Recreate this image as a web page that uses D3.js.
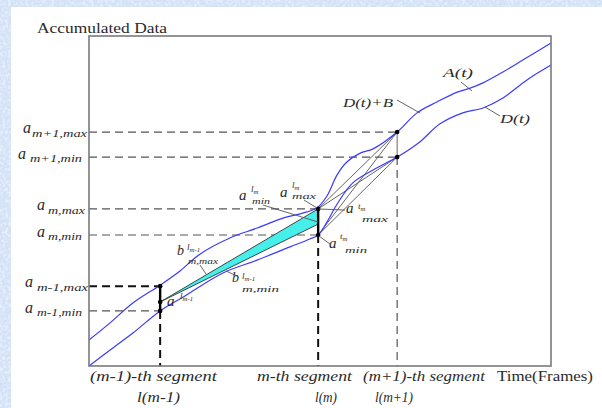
<!DOCTYPE html>
<html lang="en">
<head>
<meta charset="UTF-8">
<title>Accumulated Data</title>
<script src="https://d3js.org/d3.v7.min.js"></script>
<style>
    body { margin: 0; }
    svg text { font-family: "Liberation Serif", "DejaVu Serif", serif; fill: #2a2a2a; }
    .it { font-style: italic; }
    .curve { fill: none; stroke: #3b3bff; stroke-width: 1.2px; }
    .guide { fill: none; stroke: #555; stroke-width: 1.2px; stroke-dasharray: 8,5; }
    .guide.bold { stroke: #111; stroke-width: 2px; }
    .thin { stroke: #555; stroke-width: 0.9px; fill: none; }
</style>
</head>
<body>
<svg id="chart"></svg>
<script>
// frames on x, accumulated data on y (both 0..100)
const upperT = [0, 4.5, 9.5, 15.4, 19.7, 24.0, 30.5, 36.4, 42.0, 47.2, 49.6, 51.5, 53.7, 55.8, 58.7, 61.5, 66.7, 71.0, 75.3, 79.7, 82.5, 85.3, 89.6, 93.9, 100];
const upperV = [7.9, 13.0, 19.1, 24.5, 28.8, 33.9, 38.8, 41.8, 44.8, 46.7, 48.2, 51.5, 57.9, 61.8, 64.5, 65.8, 70.9, 76.7, 80.0, 83.0, 84.2, 85.8, 89.1, 92.7, 97.9];
const lowerT = [0, 4.5, 9.5, 15.4, 20.4, 29.0, 36.4, 43.5, 47.8, 49.6, 51.5, 53.7, 57.1, 61.5, 66.7, 71.6, 75.9, 80.9, 85.3, 89.6, 94.8, 100];
const lowerV = [0, 4.8, 10.0, 16.7, 20.9, 28.2, 32.1, 36.1, 38.5, 39.7, 43.6, 49.1, 55.5, 59.4, 63.3, 67.9, 73.3, 76.7, 78.2, 81.2, 86.7, 91.2];

const segBounds = [15.4, 49.6, 66.7];          // l(m-1), l(m), l(m+1)
const segNames = ["(m-1)-th segment", "m-th segment", "(m+1)-th segment"];
const segTicks = ["l(m-1)", "l(m)", "l(m+1)"];
const levelMax = [24.2, 47.6, 70.9];           // a_{m-1,max}, a_{m,max}, a_{m+1,max}
const levelMin = [16.7, 39.7, 63.3];
const levelMaxSubs = ["m-1,max", "m,max", "m+1,max"];
const levelMinSubs = ["m-1,min", "m,min", "m+1,min"];
const alphaStart = 19.4;                        // a^{l(m-1)}
const alphaLmMin = 43.0;                        // lower corner of the shaded wedge

const W = 602, H = 408;
const svg = d3.select("#chart").attr("width", W).attr("height", H);

// textured blue backdrop + white sheet
const defs = svg.append("defs");
const f = defs.append("filter").attr("id", "tex").attr("x", 0).attr("y", 0).attr("width", 1).attr("height", 1);
f.append("feTurbulence").attr("type", "fractalNoise").attr("baseFrequency", 0.35).attr("numOctaves", 2).attr("seed", 4);
f.append("feColorMatrix").attr("values", "0 0 0 0 1  0 0 0 0 1  0 0 0 0 1  2.2 0 0 0 -0.9");
svg.append("rect").attr("width", W).attr("height", H).attr("fill", "#d3e2f7");
svg.append("rect").attr("width", W).attr("height", H).attr("filter", "url(#tex)").attr("opacity", 0.6);
svg.append("rect").attr("x", 11).attr("y", 7).attr("width", W - 11).attr("height", H - 7).attr("fill", "#fff");

const x = d3.scaleLinear().domain([0, 100]).range([89, 551]);
const y = d3.scaleLinear().domain([0, 100]).range([366, 36]);

const g = svg.append("g");

// dashed guides
for (let i = 0; i < 3; i++) {
    const bold = i < 2;
    g.append("line").attr("class", "guide" + (i === 0 ? " bold" : ""))
        .attr("x1", x(0)).attr("x2", x(segBounds[i])).attr("y1", y(levelMax[i])).attr("y2", y(levelMax[i]));
    g.append("line").attr("class", "guide")
        .attr("x1", x(0)).attr("x2", x(segBounds[i])).attr("y1", y(levelMin[i])).attr("y2", y(levelMin[i]));
    g.append("line").attr("class", "guide" + (bold ? " bold" : ""))
        .attr("x1", x(segBounds[i])).attr("x2", x(segBounds[i])).attr("y1", y(levelMin[i])).attr("y2", y(0));
}

// shaded wedge of the m-th segment
g.append("path")
    .attr("d", d3.line()([[x(segBounds[0]), y(alphaStart)], [x(segBounds[1]), y(levelMax[1])], [x(segBounds[1]), y(alphaLmMin)]]) + "Z")
    .attr("fill", "#46efe9").attr("stroke", "#333").attr("stroke-width", 0.9);

// candidate lines into the (m+1)-th segment
[[levelMax[1], levelMax[2]], [levelMax[1], levelMin[2]], [levelMin[1], levelMax[2]], [levelMin[1], levelMin[2]]].forEach(p => {
    g.append("line").attr("class", "thin")
        .attr("x1", x(segBounds[1])).attr("y1", y(p[0]))
        .attr("x2", x(segBounds[2])).attr("y2", y(p[1]));
});
g.append("line").attr("class", "thin")
    .attr("x1", x(segBounds[2])).attr("x2", x(segBounds[2])).attr("y1", y(levelMax[2])).attr("y2", y(levelMin[2]));

// curves
const line = d3.line().curve(d3.curveCatmullRom).x(d => x(d[0])).y(d => y(d[1]));
g.append("path").attr("class", "curve").attr("d", line(upperT.map((t, i) => [t, upperV[i]])));
g.append("path").attr("class", "curve").attr("d", line(lowerT.map((t, i) => [t, lowerV[i]])));

// solid bars at segment ends
for (let i = 0; i < 2; i++) {
    g.append("line").attr("stroke", "#000").attr("stroke-width", 2.4)
        .attr("x1", x(segBounds[i])).attr("x2", x(segBounds[i]))
        .attr("y1", y(levelMax[i])).attr("y2", y(levelMin[i]));
}

// dots
const dots = [];
for (let i = 0; i < 3; i++) { dots.push([segBounds[i], levelMax[i]], [segBounds[i], levelMin[i]]); }
dots.push([segBounds[0], alphaStart]);
g.selectAll(".dot").data(dots).enter().append("circle")
    .attr("cx", d => x(d[0])).attr("cy", d => y(d[1])).attr("r", 2.3).attr("fill", "#000");

// frame
svg.append("rect").attr("x", x(0)).attr("y", y(100)).attr("width", x(100) - x(0)).attr("height", y(0) - y(100))
    .attr("fill", "none").attr("stroke", "#7a7a7a").attr("stroke-width", 1.6);

// text helpers
function txt(px, py, s, size, len, italic, anchor) {
    const t = svg.append("text").attr("x", px).attr("y", py).attr("font-size", size).text(s);
    if (italic) t.attr("class", "it");
    if (len) t.attr("textLength", len).attr("lengthAdjust", "spacingAndGlyphs");
    if (anchor) t.attr("text-anchor", anchor);
    return t;
}
function script(px, py, main, sub, size) {
    const t = svg.append("text").attr("x", px).attr("y", py).attr("font-size", size).attr("class", "it");
    t.append("tspan").text(main);
    if (sub) t.append("tspan").attr("font-size", size * 0.75).attr("dy", 2).text(sub);
    return t;
}

txt(37, 33, "Accumulated Data", 14, 130);

// level labels
const maxPos = [[25, 37, 51], [37, 48, 37], [23, 32, 55]];
const minPos = [[25, 37, 45], [37, 48, 34], [18, 30, 52]];
for (let i = 0; i < 3; i++) {
    const ym = y(levelMax[i]), yn = y(levelMin[i]);
    txt(maxPos[i][0], ym + 1, "a", 16, 0, true);
    txt(maxPos[i][1], ym + 5, levelMaxSubs[i], 11, maxPos[i][2], true);
    txt(minPos[i][0], yn + 2, "a", 16, 0, true);
    txt(minPos[i][1], yn + 5, levelMinSubs[i], 11, minPos[i][2], true);
}

// segment labels
const segX = [90, 257, 363], segW = [127, 95, 122];
const tickX = [137, 315, 375], tickW = [43, 22, 38];
for (let i = 0; i < 3; i++) {
    txt(segX[i], 381, segNames[i], 14, segW[i], true);
    txt(tickX[i], 402, segTicks[i], 14, tickW[i], true);
}
txt(497, 381, "Time(Frames)", 14, 96);

// curve labels
txt(443, 77, "A(t)", 13, 30, true);
txt(343, 107, "D(t)+B", 13, 50, true);
txt(500, 123, "D(t)", 13, 30, true);
svg.append("path").attr("class", "thin").attr("d", "M461,82L472,91M397,100L420,113M485,107L500,116");

// wedge annotations
script(239, 200, "a", "", 15);
script(251, 192, "l", "m", 9);
txt(252, 204, "min", 9, 18, true);
script(280, 197, "a", "", 15);
script(292, 188, "l", "m", 9);
txt(292, 199, "max", 9, 24, true);
script(346, 213, "a", "", 15);
script(358, 209, "t", "m", 9);
txt(362, 222, "max", 9, 26, true);
script(329, 248, "a", "", 15);
script(340, 239, "t", "m", 9);
txt(345, 253, "min", 9, 22, true);
script(177, 255, "b", "", 14);
script(187, 250, "l", "m-1", 9);
txt(188, 264, "m,max", 9, 30, true);
script(232, 282, "b", "", 14);
script(242, 279, "l", "m-1", 9);
txt(242, 292, "m,min", 9, 37, true);
script(167, 306, "a", "", 15);
script(180, 299, "l", "m-1", 9);
svg.append("path").attr("class", "thin")
    .attr("d", "M263,205L318,222M304,200L317,208M319,209L345,210M319,236L330,244M200,265L206,274M237,276L226,271");
</script>
</body>
</html>
